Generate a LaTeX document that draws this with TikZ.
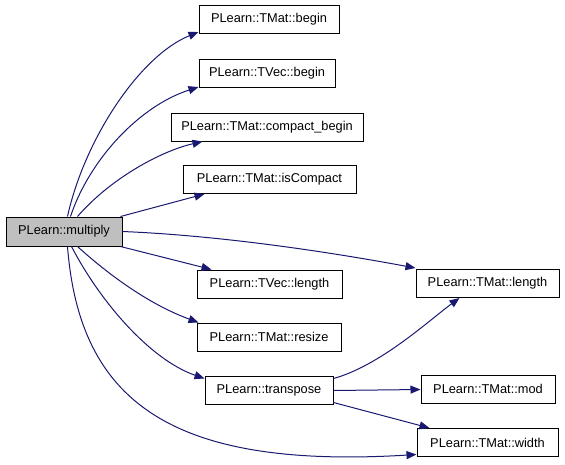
\documentclass[tikz,border=0pt]{standalone}
\usepackage{fontspec}
\setmainfont{Liberation Sans}
\usetikzlibrary{arrows.meta,calc}
\definecolor{edgec}{HTML}{191970}
\begin{document}
\begin{tikzpicture}[x=1pt,y=-1pt,
  fn/.style={draw=black,line width=1pt,inner sep=0pt,minimum height=28pt,fill=white,
    font=\fontsize{12.8}{15}\selectfont},
  call/.style={draw=edgec,line width=1pt,-{Triangle[length=10pt,width=8pt]}},
]
\useasboundingbox (0,0) rectangle (565,464);
\node[fn,fill={rgb,255:red,191;green,191;blue,191},minimum width=116pt,minimum height=29pt] (mult) at (64,231.5) {PLearn::multiply};
\node[fn,minimum width=140pt] (tmbegin) at (269,19.5) {PLearn::TMat::begin};
\node[fn,minimum width=136pt] (tvbegin) at (267,73.5) {PLearn::TVec::begin};
\node[fn,minimum width=192pt] (tmcb) at (267,127) {PLearn::TMat::compact\_begin};
\node[fn,minimum width=173pt] (tmic) at (269.5,179.5) {PLearn::TMat::isCompact};
\node[fn,minimum width=145pt] (tvlen) at (269.5,284) {PLearn::TVec::length};
\node[fn,minimum width=144pt] (tmresize) at (269,337) {PLearn::TMat::resize};
\node[fn,minimum width=128pt] (transp) at (269,390.5) {PLearn::transpose};
\node[fn,minimum width=143pt] (tmlen) at (487.5,283.5) {PLearn::TMat::length};
\node[fn,minimum width=134pt] (tmmod) at (488,389) {PLearn::TMat::mod};
\node[fn,minimum width=141pt] (tmwidth) at (487.5,442.5) {PLearn::TMat::width};

\draw[call] ($(mult.north west)+(62,0)$) .. controls +(17,-77) and +(-59,24) .. ($(tmbegin.south west)+(0,-2)$);
\draw[call] ($(mult.north west)+(65,0)$) .. controls +(19,-57) and +(-59,19) .. ($(tvbegin.south west)+(0,-1)$);
\draw[call] ($(mult.north west)+(72,0)$) .. controls +(32,-37) and +(-43,10) .. ($(tmcb.south west)+(32,0)$);
\draw[call] ($(mult.north east)+(-2,0)$) -- ($(tmic.south west)+(22,0)$);
\draw[call] (mult.east) .. controls +(98,4) and +(-86,-16) .. ($(tmlen.north west)+(0,-1)$);
\draw[call] ($(mult.south east)+(-2,0)$) -- ($(tvlen.north west)+(15,0)$);
\draw[call] ($(mult.south west)+(72,0)$) .. controls +(32,29) and +(-49,-18) .. ($(tmresize.north west)+(2,0)$);
\draw[call] ($(mult.south west)+(66,0)$) .. controls +(28,54) and +(-55,-19) .. ($(transp.west)+(0,-12)$);
\draw[call] ($(mult.south west)+(62,0)$) .. controls +(12,154) and +(-247,15) .. ($(tmwidth.west)+(0,12)$);
\draw[call] ($(transp.east)+(0,-12)$) .. controls +(47,-13) and +(-30,22) .. ($(tmlen.south west)+(44,0)$);
\draw[call] ($(transp.east)+(0,0)$) -- ($(tmmod.west)+(0,0.5)$);
\draw[call] ($(transp.east)+(0,12)$) -- ($(tmwidth.north west)+(13,0)$);
\end{tikzpicture}
\end{document}
